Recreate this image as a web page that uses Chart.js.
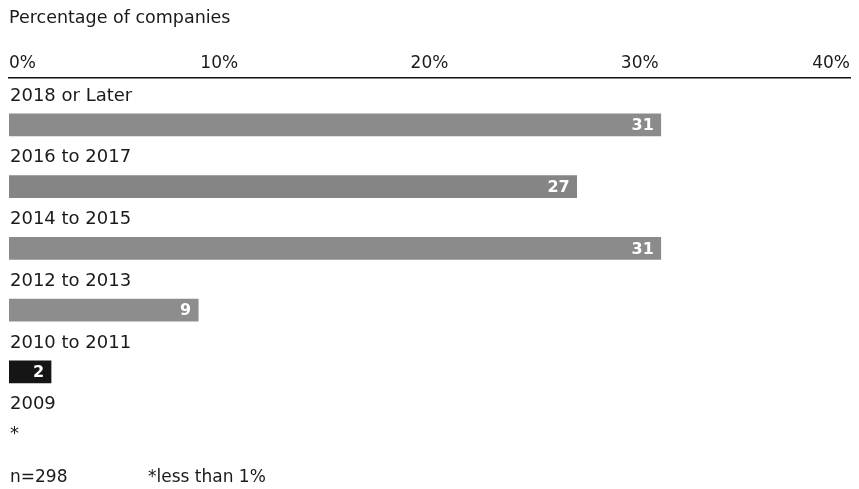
<!DOCTYPE html>
<html>
<head>
<meta charset="utf-8">
<title>Percentage of companies</title>
<script src="https://cdn.jsdelivr.net/npm/chart.js@4.4.1/dist/chart.umd.min.js"></script>
<style>
  html, body { margin: 0; padding: 0; background: #fff; }
  canvas { display: block; }
</style>
</head>
<body>
<canvas id="mycanvas" width="859" height="489"></canvas>
<script>
// year ranges and share of companies (%)
var categories = ['2018 or Later', '2016 to 2017', '2014 to 2015', '2012 to 2013', '2010 to 2011', '2009'];
var shares = [31, 27, 31, 9, 2, null];   // 2009 is under 1%, shown as *
var tickValues = [0, 10, 20, 30, 40];
var footNotes = ['n=298', '*less than 1%'];

var FONT = 'DejaVu Sans';
var TEXT = '#1a1a1a';
var barColors = ['#8b8b8b', '#858585', '#8b8b8b', '#8d8d8d', '#151515', '#8b8b8b'];

var points = [];
for (var i in categories) {
	points.push({ x: shares[i], y: Number(i) });
}

// category names above bars, values inside bar ends, footnotes
var labelsPlugin = {
	id: 'labels',
	afterDatasetsDraw: function(chart) {
		var ctx = chart.ctx;
		var area = chart.chartArea;
		var yScale = chart.scales.y;
		var bars = chart.getDatasetMeta(0).data;
		ctx.save();
		ctx.textBaseline = 'middle';
		for (var i = 0; i < categories.length; i++) {
			var cy = yScale.getPixelForValue(i);
			ctx.fillStyle = TEXT;
			ctx.textAlign = 'left';
			ctx.font = '18px "' + FONT + '"';
			ctx.fillText(categories[i], area.left + 1, cy - 29);

			if (shares[i] === null) {
				ctx.font = '18px "' + FONT + '"';
				ctx.fillText('*', area.left + 1, cy + 1);
				continue;
			}
			ctx.fillStyle = '#ffffff';
			ctx.textAlign = 'right';
			ctx.font = 'bold 16px "' + FONT + '"';
			ctx.fillText(String(shares[i]), bars[i].x - 7, cy + 1);
		}
		ctx.fillStyle = TEXT;
		ctx.textAlign = 'left';
		ctx.font = '17px "' + FONT + '"';
		ctx.fillText(footNotes[0], 10, 478);
		ctx.fillText(footNotes[1], 148, 478);
		ctx.restore();
	}
};

var ctx = document.getElementById('mycanvas');

var barGraph = new Chart(ctx, {
	type: 'bar',
	data: {
		datasets: [{
			label: 'Percentage of companies',
			data: points,
			backgroundColor: barColors,
			borderWidth: 0,
			barThickness: 22
		}]
	},
	options: {
		indexAxis: 'y',
		responsive: false,
		animation: false,
		layout: { padding: { left: 9, right: 9, top: 0, bottom: 27 } },
		plugins: {
			legend: { display: false },
			tooltip: { enabled: false },
			title: {
				display: true,
				text: 'Percentage of companies',
				align: 'start',
				color: TEXT,
				font: { family: FONT, size: 17.5, weight: 'normal' },
				padding: { top: 8, bottom: 8 }
			}
		},
		scales: {
			x: {
				position: 'top',
				min: 0,
				max: 40,
				afterBuildTicks: function(scale) {
					scale.ticks = tickValues.map(function(v) { return { value: v }; });
				},
				afterFit: function(scale) { scale.height = 41; },
				grid: { display: false, drawTicks: false },
				border: { display: true, color: '#111', width: 1.6 },
				ticks: {
					align: 'inner',
					padding: 4,
					color: TEXT,
					font: { family: FONT, size: 17 },
					callback: function(v) { return v + '%'; }
				}
			},
			y: {
				type: 'linear',
				reverse: true,
				offset: false,
				min: -0.76,
				max: 5.46,
				display: false
			}
		}
	},
	plugins: [labelsPlugin]
});
</script>
</body>
</html>
